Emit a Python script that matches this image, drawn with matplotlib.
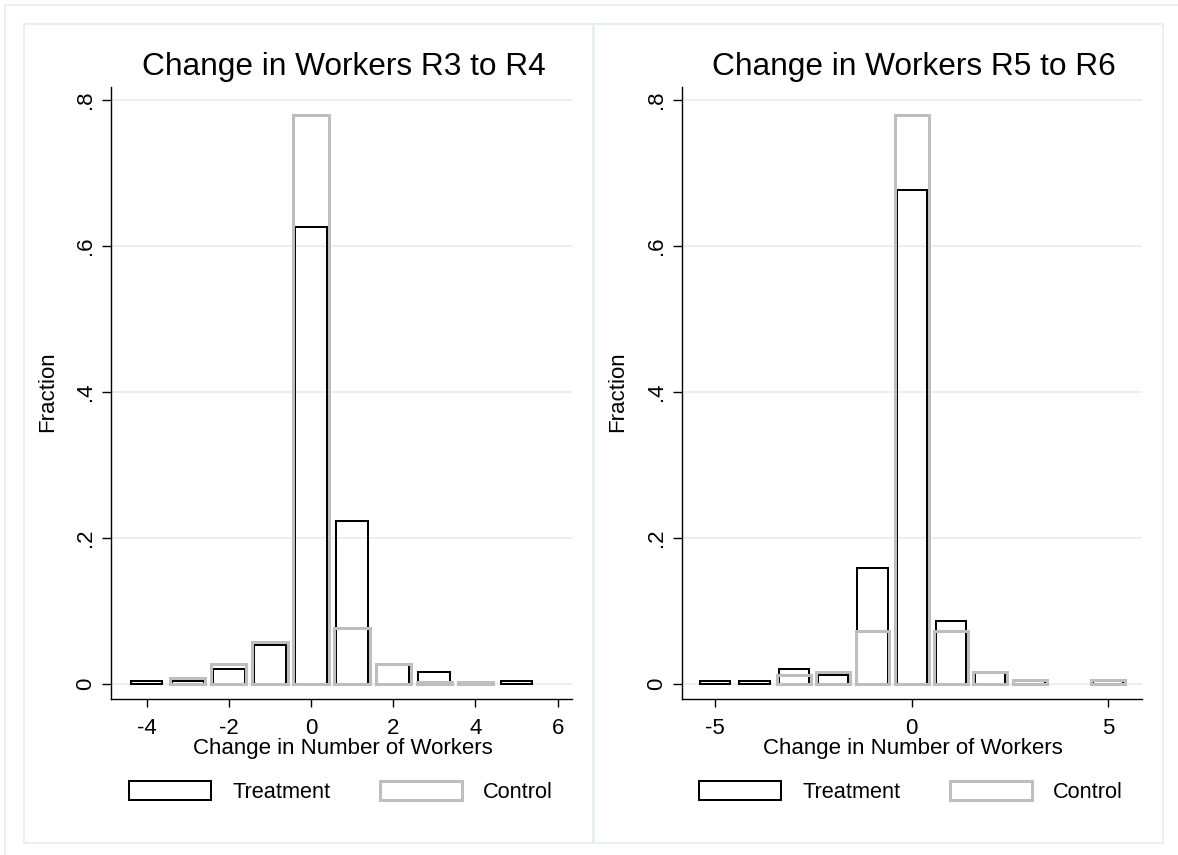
import matplotlib
matplotlib.use("Agg")
import matplotlib.pyplot as plt
from matplotlib.patches import Rectangle
from matplotlib.lines import Line2D

plt.rcParams['font.family'] = ['Liberation Sans', 'DejaVu Sans']
plt.rcParams['axes.unicode_minus'] = False

# change in workers, one bin per integer
bins_r3r4 = [-4, -3, -2, -1, 0, 1, 2, 3, 4, 5]
treat_r3r4 = [0.004, 0.004, 0.021, 0.054, 0.626, 0.224, 0.026, 0.016, 0.0, 0.004]
ctrl_r3r4 = [0.0, 0.008, 0.027, 0.058, 0.779, 0.077, 0.027, 0.003, 0.003, 0.0]

bins_r5r6 = [-5, -4, -3, -2, -1, 0, 1, 2, 3, 4, 5]
treat_r5r6 = [0.004, 0.004, 0.021, 0.012, 0.159, 0.677, 0.086, 0.016, 0.004, 0.0, 0.004]
ctrl_r5r6 = [0.0, 0.0, 0.013, 0.017, 0.072, 0.779, 0.072, 0.016, 0.005, 0.0, 0.005]

titles = ["Change in Workers R3 to R4", "Change in Workers R5 to R6"]
xticks_r3r4 = [-4, -2, 0, 2, 4, 6]
xticks_r5r6 = [-5, 0, 5]
yticks = [0, 0.2, 0.4, 0.6, 0.8]
ytick_labels = ["0", ".2", ".4", ".6", ".8"]

W, H = 1178, 855
GRAY = '#bebebe'
FRAME = '#e6eef0'


def fx(x):
    return x / W


def fy(y):
    return 1 - y / H


def nonzero(bins, vals):
    pairs = [(b, v) for b, v in zip(bins, vals) if v > 0]
    return [p[0] for p in pairs], [p[1] for p in pairs]


def draw_panel(fig, ax, bins, treat, ctrl, title, xticks, xlim, off):
    b, v = nonzero(bins, treat)
    bt = ax.bar(b, v, width=0.77, facecolor='none', edgecolor='black',
                linewidth=1.45, zorder=3)
    b, v = nonzero(bins, ctrl)
    bc = ax.bar(b, v, width=0.86, facecolor='none', edgecolor=GRAY,
                linewidth=2.2, zorder=4)
    for p in list(bt) + list(bc):
        p.set_joinstyle('miter')

    ax.set_xlim(xlim)
    ax.set_ylim(-0.0205, 0.8178)
    ax.set_xticks(xticks)
    ax.set_yticks(yticks)
    ax.set_yticklabels(ytick_labels, rotation=90, va='center')
    ax.tick_params(axis='x', length=5.8, width=1.0, pad=8, labelsize=16)
    ax.tick_params(axis='y', length=6.5, width=1.0, pad=4, labelsize=16)
    ax.grid(axis='y', color='#e8eff1', linewidth=1.3)
    ax.set_axisbelow(True)
    for s in ['top', 'right']:
        ax.spines[s].set_visible(False)
    for s in ['left', 'bottom']:
        ax.spines[s].set_linewidth(1.0)

    fig.text(fx(344 + off), fy(75), title, ha='center', va='baseline', fontsize=22.8)
    fig.text(fx(343 + off), fy(754), "Change in Number of Workers",
             ha='center', va='baseline', fontsize=16)
    fig.text(fx(53 + off), fy(392), "Fraction", rotation=90, rotation_mode='anchor',
             ha='center', va='baseline', fontsize=16)

    ax.legend([bt, bc], ["Treatment", "Control"], ncol=2, loc='center left',
              bbox_to_anchor=(fx(129 + off), fy(792)), bbox_transform=fig.transFigure,
              frameon=False, fontsize=15.7, handlelength=3.77, handleheight=0.93,
              handletextpad=0.98, columnspacing=2.25, borderpad=0, borderaxespad=0)

    fig.add_artist(Rectangle((fx(24 + off), fy(843)), 569 / W, 819 / H,
                             transform=fig.transFigure, fill=False,
                             edgecolor=FRAME, linewidth=1.2))


fig = plt.figure(figsize=(W / 100, H / 100), dpi=100)
ax1 = fig.add_axes([fx(111), fy(699), 461 / W, 612 / H])
ax2 = fig.add_axes([fx(681.5), fy(699), 460.5 / W, 612 / H])

draw_panel(fig, ax1, bins_r3r4, treat_r3r4, ctrl_r3r4, titles[0], xticks_r3r4,
           (-4.866, 6.35), 0)
draw_panel(fig, ax2, bins_r5r6, treat_r5r6, ctrl_r5r6, titles[1], xticks_r5r6,
           (-5.86, 5.86), 570)

# outer frame of the page
fig.add_artist(Line2D([fx(5), fx(5), 1], [0, fy(5), fy(5)],
                      transform=fig.transFigure, color=FRAME, linewidth=1.2))

fig.savefig("out.png", dpi=100)
